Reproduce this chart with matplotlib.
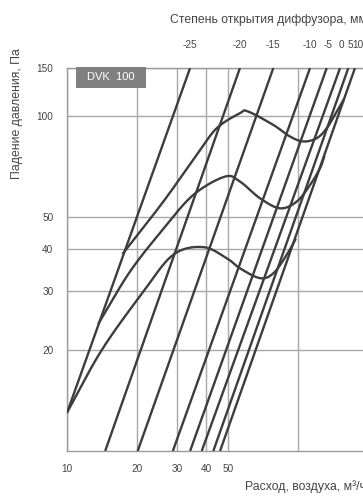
import numpy as np
import matplotlib
matplotlib.use("Agg")
import matplotlib.pyplot as plt
from matplotlib.ticker import NullLocator, FixedLocator, FixedFormatter
from matplotlib.patches import Rectangle

plt.rcParams['font.family'] = ['Liberation Sans', 'DejaVu Sans']

# ---- data ----
# straight damper-position lines (flow m3/h, pressure Pa) start/end points
line_labels = ["-25", "-20", "-15", "-10", "-5", "0", "5", "10"]
line_q_start = [10.0, 14.6, 20.2, 28.7, 34.1, 38.3, 43.0, 46.0]
line_p_start = [13.07, 10, 10, 10, 10, 10, 10, 10]
line_q_end = [34.1, 56.1, 78.3, 113.0, 133.5, 152.5, 165.6, 177.0]
line_p_end = [139, 139, 139, 139, 139, 139, 139, 139]
label_q = [34.1, 56.1, 78.3, 113.0, 134.6, 155.1, 168.5, 182.5]

# constant-level wave curves
wave1_q = [10.0, 14.1, 21.3, 28.8, 38.8, 49.2, 56.1, 68.5, 78.3, 89.5, 97.5]
wave1_p = [13.07, 20.0, 29.8, 38.5, 40.6, 37.6, 35.1, 32.8, 33.9, 38.5, 42.7]
wave2_q = [13.7, 18.7, 26.1, 35.2, 48.3, 56.1, 68.5, 83.7, 98.9, 113.0, 124.8, 130.0]
wave2_p = [24.1, 34.3, 46.0, 58.1, 65.9, 63.7, 56.8, 53.0, 55.5, 62.2, 69.8, 75.4]
wave3_q = [17.5, 26.1, 36.4, 44.5, 56.1, 60.8, 78.3, 92.5, 105.7, 120.8, 133.5, 147.5, 157.9]
wave3_p = [39.0, 55.5, 76.5, 91.9, 101.9, 103.1, 94.0, 86.8, 83.9, 85.8, 91.9, 103.0, 111.6]

x_ticks = [10, 20, 30, 40, 50, 100]
x_ticklabels = ["10", "20", "30", "40", "50", ""]
y_ticks = [20, 30, 40, 50, 100, 139]
y_ticklabels = ["20", "30", "40", "50", "100", "150"]


def smooth(xs, ys, n=24):
    P = np.column_stack([np.log10(xs), np.log10(ys)])
    P = np.vstack([2 * P[0] - P[1], P, 2 * P[-1] - P[-2]])
    out = []
    t = np.linspace(0, 1, n, endpoint=False)[:, None]
    for i in range(1, len(P) - 2):
        p0, p1, p2, p3 = P[i - 1], P[i], P[i + 1], P[i + 2]
        seg = 0.5 * (2 * p1 + (-p0 + p2) * t + (2 * p0 - 5 * p1 + 4 * p2 - p3) * t ** 2
                     + (-p0 + 3 * p1 - 3 * p2 + p3) * t ** 3)
        out.append(seg)
    out.append(P[-2][None])
    a = np.vstack(out)
    return 10 ** a[:, 0], 10 ** a[:, 1]


W, H = 363, 496
fig = plt.figure(figsize=(W / 100, H / 100), dpi=100)
ax = fig.add_axes([67.3 / W, 45 / H, 299.9 / W, 383 / H])
ax.set_xscale("log")
ax.set_yscale("log")
ax.set_xlim(10, 200)
ax.set_ylim(10, 139)

lc = "#3d3d3d"
lw = 1.7
for qs, ps, qe, pe in zip(line_q_start, line_p_start, line_q_end, line_p_end):
    ax.plot([qs, qe], [ps, pe], color=lc, lw=lw, solid_capstyle="butt", zorder=3)

for qx, px in [(wave1_q, wave1_p), (wave2_q, wave2_p), (wave3_q, wave3_p)]:
    sx, sy = smooth(qx, px)
    ax.plot(sx, sy, color=lc, lw=lw, zorder=3)

ax.xaxis.set_major_locator(FixedLocator(x_ticks))
ax.xaxis.set_major_formatter(FixedFormatter(x_ticklabels))
ax.yaxis.set_major_locator(FixedLocator(y_ticks))
ax.yaxis.set_major_formatter(FixedFormatter(y_ticklabels))
ax.xaxis.set_minor_locator(NullLocator())
ax.yaxis.set_minor_locator(NullLocator())
ax.grid(True, color="#a8a8a8", lw=1.0, zorder=1)
ax.tick_params(length=0, labelsize=7.2, colors="#444444")
ax.tick_params(axis="x", pad=9)
ax.tick_params(axis="y", pad=10)
for s in ax.spines.values():
    s.set_color("#9a9a9a")
    s.set_linewidth(1.0)

# top labels for damper positions
for lab, q in zip(line_labels, label_q):
    ax.text(q, 1.06, lab, transform=ax.get_xaxis_transform(), ha="center", va="center",
            fontsize=7.2, color="#444444", clip_on=False)

# DVK box
ax.add_patch(Rectangle((0.029, 0.949), 0.233, 0.053, transform=ax.transAxes,
                       facecolor="#808080", edgecolor="none", zorder=4, clip_on=False))
ax.text(0.1455, 0.9755, "DVK  100", transform=ax.transAxes, ha="center", va="center",
        color="white", fontsize=8.0, zorder=5)

fig.text(170 / W, 1 - 20 / H, "Степень открытия диффузора, мм", ha="left", va="center",
         fontsize=8.8, color="#444444")
fig.text(245 / W, 1 - 487 / H, "Расход, воздуха, м³/ч", ha="left", va="center",
         fontsize=8.8, color="#444444")
fig.text(17 / W, 1 - 114 / H, "Падение давления, Па", ha="center", va="center",
         rotation=90, fontsize=8.8, color="#444444")

fig.savefig("out.png", dpi=100)
